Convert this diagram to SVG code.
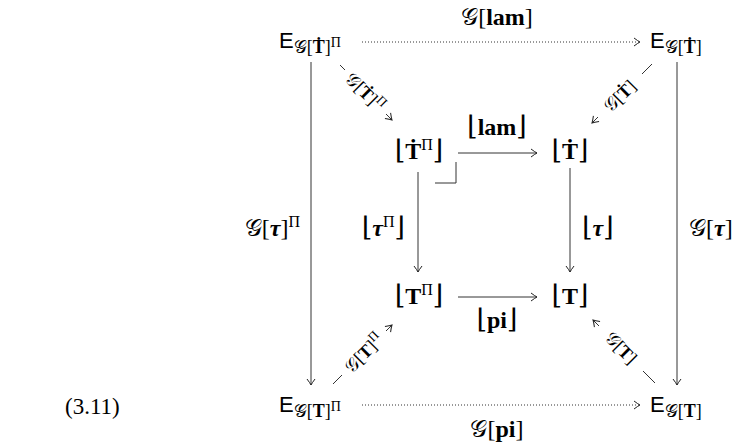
<svg xmlns="http://www.w3.org/2000/svg" width="735" height="445" viewBox="0 0 735 445">
<defs>
<marker id="ah" viewBox="-8 -5 10 10" markerWidth="10" markerHeight="10" refX="0" refY="0" orient="auto" markerUnits="userSpaceOnUse">
<path d="M -6 -4 Q -2 -1 0 0 Q -2 1 -6 4" fill="none" stroke="#222" stroke-width="1"/>
</marker>
<style>
text{font-family:"Liberation Serif","DejaVu Serif",serif;fill:#000;}
.m{font-size:24px;}
.s{font-size:18px;}
.sup{font-size:16px;}
.br{font-size:27px;}
.E{font-family:"Liberation Sans","DejaVu Sans",sans-serif;font-size:22px;}
.b{font-weight:bold;}
.i{font-style:italic;font-weight:bold;}
.ln{stroke:#333;stroke-width:1;fill:none;}
.dot{stroke:#333;stroke-width:1;fill:none;stroke-dasharray:1 2;}
</style>
</defs>
<g id="connectors">
<line class="dot" x1="362" y1="42" x2="640" y2="42" marker-end="url(#ah)"/>
<line class="dot" x1="362" y1="405" x2="640" y2="405" marker-end="url(#ah)"/>
<line class="ln" x1="311" y1="62" x2="311" y2="385" marker-end="url(#ah)"/>
<line class="ln" x1="677" y1="62" x2="677" y2="385" marker-end="url(#ah)"/>
<line class="ln" x1="458" y1="153" x2="537" y2="153" marker-end="url(#ah)"/>
<line class="ln" x1="458" y1="297" x2="537" y2="297" marker-end="url(#ah)"/>
<line class="ln" x1="418" y1="172" x2="418" y2="272" marker-end="url(#ah)"/>
<line class="ln" x1="570" y1="168" x2="570" y2="272" marker-end="url(#ah)"/>
<path class="ln" d="M 435 183 H 456 V 162"/>
<line class="ln" x1="340" y1="65" x2="345" y2="70"/>
<line class="ln" x1="386" y1="114" x2="392" y2="120" marker-end="url(#ah)"/>
<line class="ln" x1="652" y1="64" x2="642" y2="74"/>
<line class="ln" x1="598" y1="117" x2="592" y2="123" marker-end="url(#ah)"/>
<line class="ln" x1="333" y1="384" x2="342" y2="375"/>
<line class="ln" x1="386" y1="331" x2="392" y2="325" marker-end="url(#ah)"/>
<line class="ln" x1="655" y1="383" x2="643" y2="371"/>
<line class="ln" x1="599" y1="326" x2="593" y2="320" marker-end="url(#ah)"/>
<g id="edge-labels">
<text class="m" x="497" y="25" text-anchor="middle">𝒢[<tspan class="b">lam</tspan>]</text>
<text class="m" x="497" y="437" text-anchor="middle">𝒢[<tspan class="b">pi</tspan>]</text>
<text class="m" x="497" y="135" text-anchor="middle"><tspan class="br">⌊</tspan><tspan class="b">lam</tspan><tspan class="br">⌋</tspan></text>
<text class="m" x="497" y="328" text-anchor="middle"><tspan class="br">⌊</tspan><tspan class="b">pi</tspan><tspan class="br">⌋</tspan></text>
<text class="m" x="300" y="236" text-anchor="end">𝒢[<tspan class="i">τ</tspan>]<tspan class="sup" dy="-9">Π</tspan></text>
<text class="m" x="405" y="236" text-anchor="end"><tspan class="br">⌊</tspan><tspan class="i">τ</tspan><tspan class="sup" dy="-9">Π</tspan><tspan class="br" dy="9">⌋</tspan></text>
<text class="m" x="582" y="236"><tspan class="br">⌊</tspan><tspan class="i">τ</tspan><tspan class="br">⌋</tspan></text>
<text class="m" x="689" y="236">𝒢[<tspan class="i">τ</tspan>]</text>
<text class="s" transform="translate(365,92) rotate(45)" text-anchor="middle" dominant-baseline="central">𝒢[<tspan class="b">Ṫ</tspan>]<tspan font-size="13" dy="-6">Π</tspan></text>
<text class="s" transform="translate(620,96) rotate(-45)" text-anchor="middle" dominant-baseline="central">𝒢[<tspan class="b">Ṫ</tspan>]</text>
<text class="s" transform="translate(364,353) rotate(-45)" text-anchor="middle" dominant-baseline="central">𝒢[<tspan class="b">T</tspan>]<tspan font-size="13" dy="-6">Π</tspan></text>
<text class="s" transform="translate(621,348) rotate(45)" text-anchor="middle" dominant-baseline="central">𝒢[<tspan class="b">T</tspan>]</text>
</g>
</g>
<g id="n-EGTdotPi"><text x="279" y="48"><tspan class="E">E</tspan><tspan class="s" dy="5">𝒢[<tspan class="b">Ṫ</tspan>]<tspan font-size="14" dy="-6">Π</tspan></tspan></text></g>
<g id="n-EGTdot"><text x="650" y="48"><tspan class="E">E</tspan><tspan class="s" dy="5">𝒢[<tspan class="b">Ṫ</tspan>]</tspan></text></g>
<g id="n-EGTPi"><text x="279" y="412"><tspan class="E">E</tspan><tspan class="s" dy="5">𝒢[<tspan class="b">T</tspan>]<tspan font-size="14" dy="-6">Π</tspan></tspan></text></g>
<g id="n-EGT"><text x="650" y="412"><tspan class="E">E</tspan><tspan class="s" dy="5">𝒢[<tspan class="b">T</tspan>]</tspan></text></g>
<g id="n-TdotPi"><text class="m" x="419" y="159" text-anchor="middle"><tspan class="br">⌊</tspan><tspan class="b">Ṫ</tspan><tspan class="sup" dy="-9">Π</tspan><tspan class="br" dy="9">⌋</tspan></text></g>
<g id="n-Tdot"><text class="m" x="570" y="159" text-anchor="middle"><tspan class="br">⌊</tspan><tspan class="b">Ṫ</tspan><tspan class="br">⌋</tspan></text></g>
<g id="n-TPi"><text class="m" x="419" y="304" text-anchor="middle"><tspan class="br">⌊</tspan><tspan class="b">T</tspan><tspan class="sup" dy="-9">Π</tspan><tspan class="br" dy="9">⌋</tspan></text></g>
<g id="n-T"><text class="m" x="570" y="304" text-anchor="middle"><tspan class="br">⌊</tspan><tspan class="b">T</tspan><tspan class="br">⌋</tspan></text></g>
<g id="eq-number"><text x="65" y="414" font-size="23">(3.11)</text></g>
</svg>
